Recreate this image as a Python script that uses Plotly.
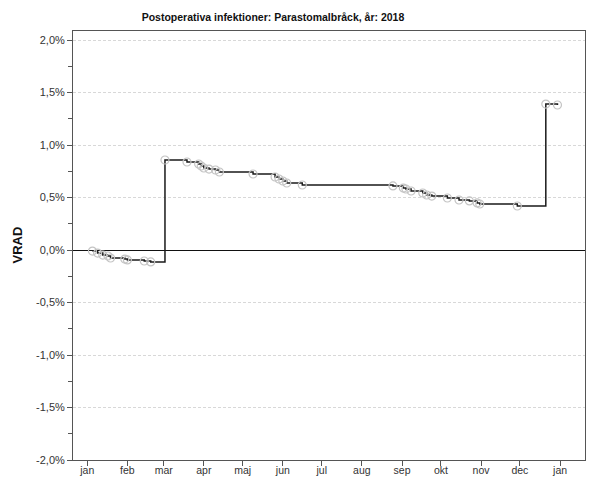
import plotly.graph_objects as go

title_text = "Postoperativa infektioner: Parastomalbråck, år: 2018"
y_label = "VRAD"

dates = [
    "2018-01-05", "2018-01-09", "2018-01-13", "2018-01-17", "2018-01-19",
    "2018-01-30", "2018-02-01", "2018-02-14", "2018-02-19",
    "2018-03-02", "2018-03-19", "2018-03-28", "2018-03-30", "2018-04-01",
    "2018-04-05", "2018-04-10", "2018-04-13", "2018-05-09",
    "2018-05-26", "2018-05-29", "2018-06-01", "2018-06-04", "2018-06-16",
    "2018-08-25", "2018-09-02", "2018-09-04", "2018-09-08", "2018-09-17",
    "2018-09-20", "2018-09-24", "2018-10-06", "2018-10-15", "2018-10-23",
    "2018-10-29", "2018-10-31", "2018-11-29",
    "2018-12-21", "2018-12-30",
]
vrad = [
    -0.010, -0.029, -0.048, -0.057, -0.076,
    -0.086, -0.095, -0.105, -0.114,
    0.857, 0.838, 0.819, 0.800, 0.781,
    0.771, 0.762, 0.743, 0.724,
    0.695, 0.676, 0.657, 0.638, 0.619,
    0.610, 0.590, 0.581, 0.562, 0.543,
    0.524, 0.514, 0.495, 0.476, 0.467,
    0.448, 0.438, 0.419,
    1.390, 1.381,
]

month_ticks = ["2018-01-01", "2018-02-01", "2018-03-01", "2018-04-01", "2018-05-01",
               "2018-06-01", "2018-07-01", "2018-08-01", "2018-09-01", "2018-10-01",
               "2018-11-01", "2018-12-01", "2019-01-01"]
month_labels = ["jan", "feb", "mar", "apr", "maj", "jun", "jul", "aug", "sep",
                "okt", "nov", "dec", "jan"]

y_ticks = [-2.0, -1.5, -1.0, -0.5, 0.0, 0.5, 1.0, 1.5, 2.0]
y_labels = ["-2,0%", "-1,5%", "-1,0%", "-0,5%", "0,0%", "0,5%", "1,0%", "1,5%", "2,0%"]
y_minor = [-1.75, -1.25, -0.75, -0.25, 0.25, 0.75, 1.25, 1.75]

fig = go.Figure()
fig.add_trace(go.Scatter(
    x=dates, y=vrad, mode="lines", line=dict(shape="hv", color="#1a1a1a", width=1.5),
    hoverinfo="skip", showlegend=False,
))
fig.add_trace(go.Scatter(
    x=dates, y=vrad, mode="markers",
    marker=dict(symbol="circle-open", size=8, color="#c4c4c4", line=dict(width=1.2)),
    hoverinfo="skip", showlegend=False,
))

fig.update_layout(
    width=596, height=477,
    margin=dict(l=73, r=11, t=31, b=17),
    paper_bgcolor="white", plot_bgcolor="white",
    font=dict(family="Liberation Sans, Arial, sans-serif", size=11, color="#333333"),
    title=dict(text="<b>" + title_text + "</b>", x=273 / 596, xanchor="center",
               y=1 - 17 / 477, yanchor="middle", xref="container", yref="container",
               font=dict(family="Liberation Sans, Arial, sans-serif",
                         size=10.5, color="#111111")),
    xaxis=dict(
        type="date", range=["2017-12-21", "2019-01-20 06:00"], automargin=False,
        tickmode="array", tickvals=month_ticks, ticktext=month_labels,
        ticks="outside", ticklen=5, tickcolor="#555555", ticklabelstandoff=-5,
        showgrid=False, zeroline=False,
        showline=True, linecolor="#555555", linewidth=1, mirror=True,
        tickfont=dict(size=10.5, color="#333333"),
    ),
    yaxis=dict(
        range=[-2.0, 2.0857], automargin=False,
        tickmode="array", tickvals=y_ticks, ticktext=y_labels,
        ticks="outside", ticklen=5, tickcolor="#555555",
        minor=dict(tickmode="array", tickvals=y_minor, ticks="outside", ticklen=4,
                   tickcolor="#555555", showgrid=False),
        showgrid=True, gridcolor="#d8d8d8", griddash="3px,2px", gridwidth=1,
        zeroline=True, zerolinecolor="#111111", zerolinewidth=1,
        showline=True, linecolor="#555555", linewidth=1, mirror=True,
        tickfont=dict(size=11, color="#333333"),
    ),
    annotations=[dict(
        text="<b>" + y_label + "</b>", xref="paper", yref="paper",
        x=-(73 - 17) / 512, y=0.5, xanchor="center", yanchor="middle",
        textangle=-90, showarrow=False,
        font=dict(family="Liberation Sans, Arial, sans-serif", size=13, color="#111111"),
    )],
)

fig.write_html("out.html", config={"displayModeBar": False},
               post_script="document.body.style.margin='0px';document.body.style.overflow='hidden';")
